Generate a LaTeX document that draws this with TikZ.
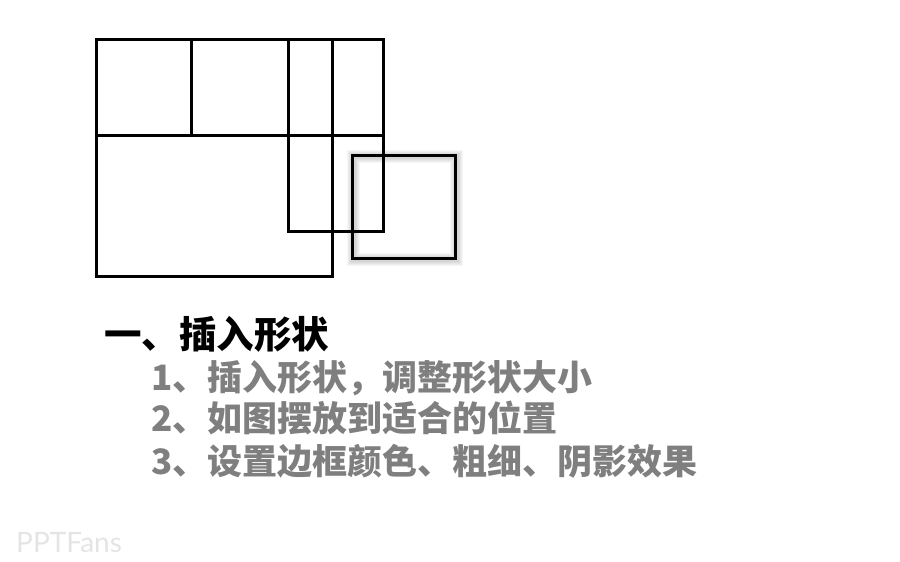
\documentclass[tikz,border=0pt]{standalone}
\usepackage{fontspec}
\newfontfamily\cjk{Noto Sans CJK SC}
\setsansfont{Lato}
\definecolor{itemgray}{RGB}{127,127,127}
\definecolor{markgray}{RGB}{228,228,228}

\begin{document}
\begin{tikzpicture}[
x=1pt, y=-1pt,
box/.style={draw=black, line width=3pt},
glow/.style={draw=black, opacity=0.035, line width=#1},
heading/.style={anchor=base west, inner sep=0pt, font=\cjk\bfseries\fontsize{37.5}{40}\selectfont, text=black},
item/.style={anchor=base west, inner sep=0pt, font=\cjk\bfseries\fontsize{35}{38}\selectfont, text=itemgray},
]
\useasboundingbox (0,0) rectangle (900,562);
% soft shadow round the small square
\foreach \w in {5,7,9,11,13}
    \draw[glow=\w pt] (353,156) rectangle (456,259);
% the shapes
\draw[box] (96,39) rectangle (191,135);
\draw[box] (191,39) rectangle (332,135);
\draw[box] (96,135) rectangle (332,276);
\draw[box] (288,39) rectangle (383,135);
\draw[box] (288,39) rectangle (383,231);
\draw[box] (352,155) rectangle (455,258);
% texts
\node[heading] (title) at (104,348) {一、插入形状};
\node[item] (step1) at (151,390) {1、插入形状，调整形状大小};
\node[item] (step2) at (151,431) {2、如图摆放到适合的位置};
\node[item] (step3) at (151,474) {3、设置边框颜色、粗细、阴影效果};
\node[anchor=base west, inner sep=0pt, font=\sffamily\fontsize{28}{30}\selectfont, text=markgray] (mark) at (16,552) {PPTFans};
\end{tikzpicture}
\end{document}
